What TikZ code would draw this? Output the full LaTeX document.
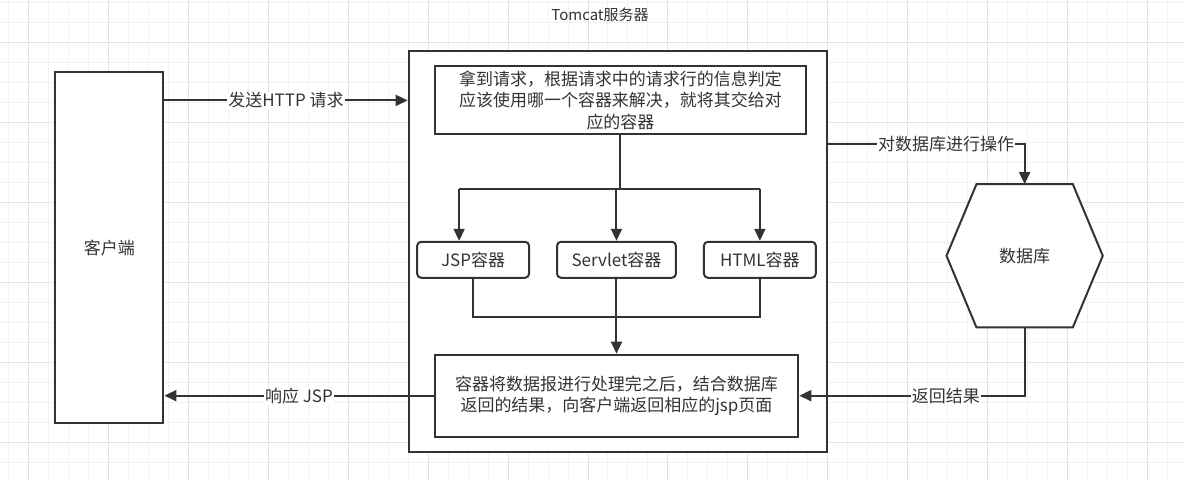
\documentclass[tikz,border=0pt]{standalone}
\usepackage{fontspec}
\setmainfont{Noto Sans CJK SC}
\usetikzlibrary{arrows.meta,calc}
\definecolor{InkGray}  {HTML}{333333}
\definecolor{GridMinor}{HTML}{F1F1F1}
\definecolor{GridMajor}{HTML}{E3E3E3}
\tikzset{
  box/.style={rectangle,draw=InkGray,line width=2pt,fill=white,text=InkGray,
              font=\fontsize{17}{21.5}\selectfont,align=center,inner sep=0pt},
  cbox/.style={box,rounded corners=4pt},
  lbl/.style={fill=white,inner sep=1pt,text=InkGray,font=\fontsize{17}{19}\selectfont},
  link/.style={line width=2pt,draw=InkGray},
  arr/.style={link,-{Triangle[length=12pt,width=11pt]}},
}

\begin{document}
\begin{tikzpicture}[x=1pt,y=-1pt]

  % background grid
  \fill[white] (0,0) rectangle (1184,480);
  \foreach \gx in {8,28,...,1184} \draw[GridMinor,line width=1pt] (\gx,0) -- (\gx,480);
  \foreach \gy in {2,22,...,480} \draw[GridMinor,line width=1pt] (0,\gy) -- (1184,\gy);
  \foreach \gx in {28,108,...,1184} \draw[GridMajor,line width=1pt] (\gx,0) -- (\gx,480);
  \foreach \gy in {42,122,...,480} \draw[GridMajor,line width=1pt] (0,\gy) -- (1184,\gy);

  \node[box,minimum width=108pt,minimum height=351pt] (client) at (109,247.5) {客户端};

  \node[font=\fontsize{15}{18}\selectfont,text=InkGray] (title) at (600,14) {Tomcat服务器};
  \node[box,minimum width=419pt,minimum height=401pt] (tomcat) at (618,251.5) {};

  \node[box,minimum width=372pt,minimum height=68pt] (dispatch) at (620.5,100)
    {拿到请求，根据请求中的请求行的信息判定\\应该使用哪一个容器来解决，就将其交给对\\应的容器};

  \node[cbox,minimum width=112pt,minimum height=36pt] (jsp)     at (473,259.5)   {JSP容器};
  \node[cbox,minimum width=119pt,minimum height=36pt] (servlet) at (616.5,259.5) {Servlet容器};
  \node[cbox,minimum width=112pt,minimum height=36pt] (html)    at (760,259.5)   {HTML容器};

  \node[box,minimum width=364pt,minimum height=82pt] (result) at (616.5,395.5)
    {容器将数据报进行处理完之后，结合数据库\\返回的结果，向客户端返回相应的jsp页面};

  \node[minimum width=156pt,minimum height=143pt,inner sep=0pt] (db) at (1025,255.5) {};
  \filldraw[link,fill=white] (db.west) -- ([xshift=30pt]db.north west)
    -- ([xshift=-30pt]db.north east) -- (db.east)
    -- ([xshift=-30pt]db.south east) -- ([xshift=30pt]db.south west) -- cycle;
  \node[text=InkGray,font=\fontsize{17}{19}\selectfont] (dblabel) at (db.center) {数据库};

  % client <-> tomcat
  \draw[arr] (client.east |- dispatch.west) -- node[lbl]{发送HTTP 请求} (tomcat.west |- dispatch.west);
  \draw[arr] (result.west) -- node[lbl]{响应 JSP} (client.east |- result.west);

  % dispatch to containers
  \draw[link] (dispatch.south) -- ++(0,54) coordinate (split);
  \draw[link] ([xshift=-14pt]jsp.north |- split) -- (html.north |- split);
  \draw[arr] ([xshift=-14pt]jsp.north |- split) -- ([xshift=-14pt]jsp.north);
  \draw[arr] (servlet.north |- split) -- (servlet.north);
  \draw[arr] (html.north |- split) -- (html.north);

  % containers to result
  \draw[link] (jsp.south) -- ++(0,38) -| (html.south);
  \draw[arr] (servlet.south) -- (result.north);

  % database
  \draw[arr] ($(tomcat.north east)+(0,94)$) -| node[lbl,pos=0.3]{对数据库进行操作} (db.north);
  \draw[arr] (db.south) |- node[lbl,pos=0.675]{返回结果} (result.east);

\end{tikzpicture}
\end{document}
